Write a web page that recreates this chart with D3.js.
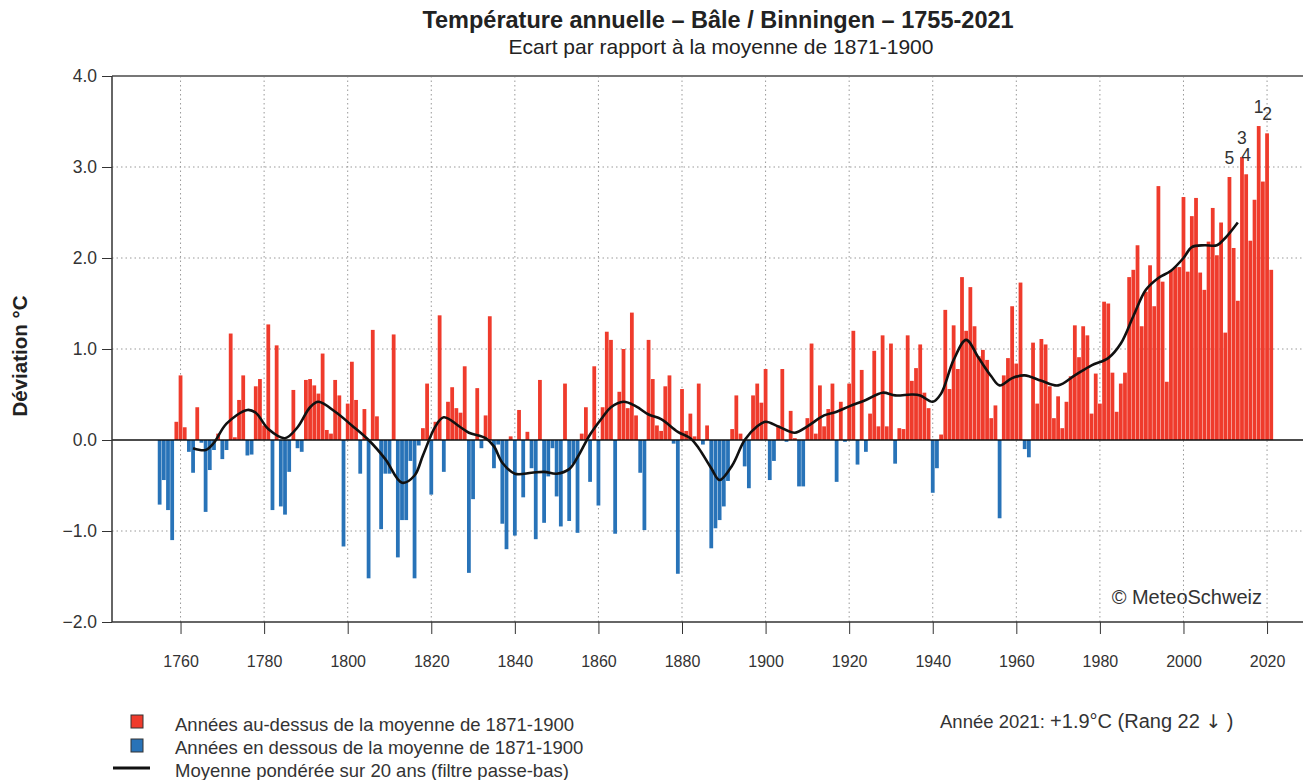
<!DOCTYPE html>
<html>
<head>
<meta charset="utf-8">
<script src="https://cdn.jsdelivr.net/npm/d3@7"></script>
<style>
  body { margin: 0; background: #fff; }
  text { font-family: "Liberation Sans", Arial, sans-serif; fill: #222; }
  .grid line { stroke: #999; stroke-dasharray: 1.5 3; }
  .axis path, .axis line { stroke: #333; }
</style>
</head>
<body>
<script>
// annual deviation from 1871-1900 mean, Basel / Binningen, 1755..2021
const firstYear = 1755;
const anomalies = [
  -0.71, -0.44, -0.77, -1.10, 0.20,                                  // 1755-1759
  0.71, 0.14, -0.13, -0.36, 0.36, -0.03, -0.79, -0.33, -0.11, 0.07,  // 1760s
  -0.21, -0.11, 1.17, 0.03, 0.44, 0.71, -0.17, -0.16, 0.59, 0.67,    // 1770s
  0.16, 1.27, -0.77, 1.04, -0.73, -0.82, -0.35, 0.55, -0.09, -0.13,  // 1780s
  0.66, 0.67, 0.60, 0.51, 0.95, 0.11, 0.07, 0.66, 0.49, -1.17,       // 1790s
  0.40, 0.86, 0.44, -0.37, 0.34, -1.52, 1.21, 0.26, -0.98, -0.37,    // 1800s
  -0.37, 1.16, -1.29, -0.88, -0.88, -0.23, -1.52, -0.06, 0.13, 0.62, // 1810s
  -0.60, 0.20, 1.37, -0.35, 0.42, 0.58, 0.35, 0.30, 0.81, -1.46,     // 1820s
  -0.65, 0.57, -0.09, 0.27, 1.36, -0.31, -0.05, -0.92, -1.20, 0.04,  // 1830s
  -1.05, 0.33, -0.63, 0.09, -0.31, -1.09, 0.66, -0.91, -0.40, -0.09, // 1840s
  -0.62, -0.95, 0.62, -0.89, -0.26, -1.02, 0.07, 0.36, -0.46, 0.81,  // 1850s
  -0.72, 0.36, 1.19, 1.10, -1.03, 0.53, 1.00, 0.35, 1.40, 0.27,      // 1860s
  -0.36, -0.99, 1.10, 0.67, 0.16, 0.10, 0.59, 0.71, -0.04, -1.47,    // 1870s
  0.56, 0.10, 0.29, 0.04, 0.62, -0.05, 0.16, -1.19, -0.97, -0.88,    // 1880s
  -0.73, -0.45, 0.12, 0.49, 0.07, -0.29, -0.53, 0.49, 0.62, 0.41,    // 1890s
  0.78, -0.44, -0.23, 0.16, 0.78, -0.02, 0.32, 0.02, -0.51, -0.51,   // 1900s
  0.24, 1.06, 0.07, 0.60, 0.15, 0.34, 0.62, -0.46, 0.42, -0.02,      // 1910s
  0.62, 1.20, -0.27, 0.77, -0.13, 0.29, 0.98, 0.15, 1.15, 0.15,      // 1920s
  1.06, -0.26, 0.13, 0.12, 1.15, 0.65, 0.79, 1.05, 0.52, 0.35,       // 1930s
  -0.58, -0.31, 0.06, 1.43, 0.56, 1.26, 0.78, 1.79, 1.20, 1.68,      // 1940s
  1.25, 0.92, 0.99, 0.88, 0.24, 0.38, -0.86, 0.71, 0.90, 1.47,       // 1950s
  0.84, 1.73, -0.10, -0.19, 1.07, 0.40, 1.11, 1.05, 0.59, 0.24,      // 1960s
  0.48, 0.13, 0.42, 0.70, 1.26, 0.91, 1.25, 1.15, 0.29, 0.73,        // 1970s
  0.40, 1.52, 1.50, 0.74, 0.31, 0.62, 0.74, 1.79, 1.87, 2.14,        // 1980s
  1.25, 1.63, 1.92, 1.47, 2.79, 1.74, 0.64, 1.86, 1.90, 1.90,        // 1990s
  2.67, 1.85, 2.46, 2.66, 1.84, 1.65, 2.18, 2.55, 2.03, 2.39,        // 2000s
  1.18, 2.89, 2.11, 1.53, 3.11, 2.92, 2.19, 2.64, 3.45, 2.84,        // 2010s
  3.37, 1.87                                                         // 2020-2021
];

// 20-year low-pass curve
const smoothYears = [1763, 1766, 1768, 1771, 1776, 1778, 1781, 1785, 1788, 1791,
  1793, 1797, 1801, 1805, 1809, 1813, 1816, 1818, 1821, 1823, 1827, 1829, 1833,
  1835, 1837, 1840, 1844, 1847, 1850, 1853, 1855, 1858, 1861, 1863, 1866, 1869,
  1872, 1875, 1879, 1882, 1884, 1887, 1889, 1892, 1895, 1898, 1900, 1903, 1907,
  1910, 1914, 1917, 1920, 1924, 1928, 1931, 1935, 1937, 1940, 1942, 1945, 1948,
  1951, 1954, 1956, 1959, 1962, 1966, 1970, 1974, 1978, 1982, 1985, 1988, 1991,
  1994, 1997, 2000, 2002, 2005, 2008, 2010, 2013];
const smoothValues = [-0.09, -0.11, -0.03, 0.18, 0.33, 0.30, 0.12, 0.02, 0.14, 0.36,
  0.42, 0.31, 0.16, 0.0, -0.21, -0.47, -0.39, -0.17, 0.15, 0.25, 0.14, 0.08, 0.02,
  -0.07, -0.25, -0.37, -0.36, -0.35, -0.37, -0.32, -0.19, 0.06, 0.25, 0.36, 0.42, 0.37,
  0.28, 0.23, 0.09, 0.02, -0.09, -0.31, -0.44, -0.28, 0.0, 0.15, 0.20, 0.15, 0.08,
  0.15, 0.27, 0.31, 0.37, 0.44, 0.52, 0.49, 0.50, 0.49, 0.42, 0.51, 0.88, 1.10,
  0.90, 0.70, 0.60, 0.68, 0.71, 0.65, 0.60, 0.71, 0.82, 0.90, 1.06, 1.36, 1.65,
  1.78, 1.86, 2.00, 2.12, 2.14, 2.14, 2.22, 2.39];

const rankYears = [2018, 2020, 2014, 2015, 2011];
const rankLabels = ['1', '2', '3', '4', '5'];

const xTicks = [1760, 1780, 1800, 1820, 1840, 1860, 1880, 1900, 1920, 1940, 1960, 1980, 2000, 2020];
const yTicks = [-2, -1, 0, 1, 2, 3, 4];

const legendLabels = [
  'Années au-dessus de la moyenne de 1871-1900',
  'Années en dessous de la moyenne de 1871-1900',
  'Moyenne pondérée sur 20 ans (filtre passe-bas)'
];

const red = '#ef3b2c';
const blue = '#2873b8';

const width = 1303;
const height = 780;
const plot = { left: 112, right: 1303, top: 76, bottom: 622 };

const data = anomalies.map((v, i) => ({ year: firstYear + i, value: v }));

const x = d3.scaleLinear()
      .domain([1743.6, 2028.6])
      .range([plot.left, plot.right]);

const y = d3.scaleLinear()
      .domain([-2, 4])
      .range([plot.bottom, plot.top]);

const step = x(1) - x(0);

const svg = d3.select('body')
      .append('svg')
      .attr('width', width)
      .attr('height', height);

// titles
svg.append('text')
    .attr('x', 718).attr('y', 28)
    .attr('text-anchor', 'middle')
    .style('font-weight', 'bold')
    .style('font-size', '23.5px')
    .text('Température annuelle – Bâle / Binningen – 1755-2021');

svg.append('text')
    .attr('x', 721).attr('y', 54)
    .attr('text-anchor', 'middle')
    .style('font-size', '21px')
    .text('Ecart par rapport à la moyenne de 1871-1900');

// grid
const grid = svg.append('g').attr('class', 'grid');

grid.selectAll('line.v')
    .data(xTicks)
    .enter()
    .append('line')
    .attr('class', 'v')
    .attr('x1', d => x(d)).attr('x2', d => x(d))
    .attr('y1', plot.top).attr('y2', plot.bottom);

grid.selectAll('line.h')
    .data(yTicks.filter(d => d !== 0 && d !== 4 && d !== -2))
    .enter()
    .append('line')
    .attr('class', 'h')
    .attr('x1', plot.left).attr('x2', plot.right)
    .attr('y1', d => y(d)).attr('y2', d => y(d));

// bars
svg.append('g')
    .selectAll('rect')
    .data(data)
    .enter()
    .append('rect')
    .attr('x', d => x(d.year) - step / 2 + 0.2)
    .attr('width', step - 0.4)
    .attr('y', d => y(Math.max(0, d.value)))
    .attr('height', d => Math.abs(y(d.value) - y(0)))
    .attr('fill', d => d.value >= 0 ? red : blue);

// zero line
svg.append('line')
    .attr('x1', plot.left).attr('x2', plot.right)
    .attr('y1', y(0)).attr('y2', y(0))
    .attr('stroke', '#111')
    .attr('stroke-width', 1.3);

// smoothed curve
const line = d3.line()
      .x((d, i) => x(smoothYears[i]))
      .y(d => y(d))
      .curve(d3.curveCatmullRom.alpha(0.5));

svg.append('path')
    .datum(smoothValues)
    .attr('d', line)
    .attr('fill', 'none')
    .attr('stroke', '#111')
    .attr('stroke-width', 2.6);

// rank labels on the warmest years
svg.append('g')
    .selectAll('text')
    .data(rankYears)
    .enter()
    .append('text')
    .attr('x', d => x(d))
    .attr('y', d => y(anomalies[d - firstYear]) - 13)
    .attr('text-anchor', 'middle')
    .style('font-size', '17.5px')
    .style('fill', '#333')
    .text((d, i) => rankLabels[i]);

// frame
svg.append('line')
    .attr('x1', plot.left).attr('x2', plot.right)
    .attr('y1', plot.top).attr('y2', plot.top)
    .attr('stroke', '#777')
    .attr('stroke-width', 2);

const xAxis = svg.append('g').attr('class', 'axis')
      .attr('transform', `translate(0, ${plot.bottom})`)
      .call(d3.axisBottom(x).tickValues(xTicks).tickFormat(d3.format('d'))
            .tickSize(12).tickPadding(22));
xAxis.select('.domain').attr('d', `M${plot.left},0H${plot.right}`).attr('stroke-width', 1.5);
xAxis.selectAll('text').style('font-size', '16px').style('fill', '#333');

const yAxis = svg.append('g').attr('class', 'axis')
      .attr('transform', `translate(${plot.left}, 0)`)
      .call(d3.axisLeft(y).tickValues(yTicks).tickFormat(d3.format('.1f'))
            .tickSize(10).tickPadding(5));
yAxis.select('.domain').attr('d', `M0,${plot.top}V${plot.bottom}`).attr('stroke-width', 1.5);
yAxis.selectAll('text').style('font-size', '17.5px').style('fill', '#333');

svg.append('text')
    .attr('transform', 'translate(27, 356) rotate(-90)')
    .attr('text-anchor', 'middle')
    .style('font-weight', 'bold')
    .style('font-size', '20.5px')
    .text('Déviation °C');

svg.append('text')
    .attr('x', 1262).attr('y', 604)
    .attr('text-anchor', 'end')
    .style('font-size', '20px')
    .style('fill', '#333')
    .text('© MeteoSchweiz');

// legend
const legend = svg.append('g');
[red, blue].forEach((c, i) => {
    legend.append('rect')
	.attr('x', 131).attr('y', 715 + i * 24)
	.attr('width', 12).attr('height', 13)
	.attr('fill', c)
	.attr('stroke', '#333')
	.attr('stroke-width', 1);
});
legend.append('line')
    .attr('x1', 113).attr('x2', 150)
    .attr('y1', 768).attr('y2', 768)
    .attr('stroke', '#111')
    .attr('stroke-width', 3);
legend.selectAll('text')
    .data(legendLabels)
    .enter()
    .append('text')
    .attr('x', 175)
    .attr('y', (d, i) => 731 + i * 23)
    .style('font-size', '18.5px')
    .style('fill', '#333')
    .text(d => d);

const note = svg.append('text')
      .attr('x', 940).attr('y', 728)
      .style('font-size', '18.5px')
      .style('fill', '#333');
note.append('tspan').text('Année 2021: ');
note.append('tspan').style('font-size', '20px').text('+1.9°C (Rang 22 ');
note.append('tspan')
    .style('font-family', '"DejaVu Sans", sans-serif')
    .style('font-size', '19px')
    .style('fill', '#333')
    .text('\u2193');
note.append('tspan').style('font-size', '20px').text(' )');
</script>
</body>
</html>
